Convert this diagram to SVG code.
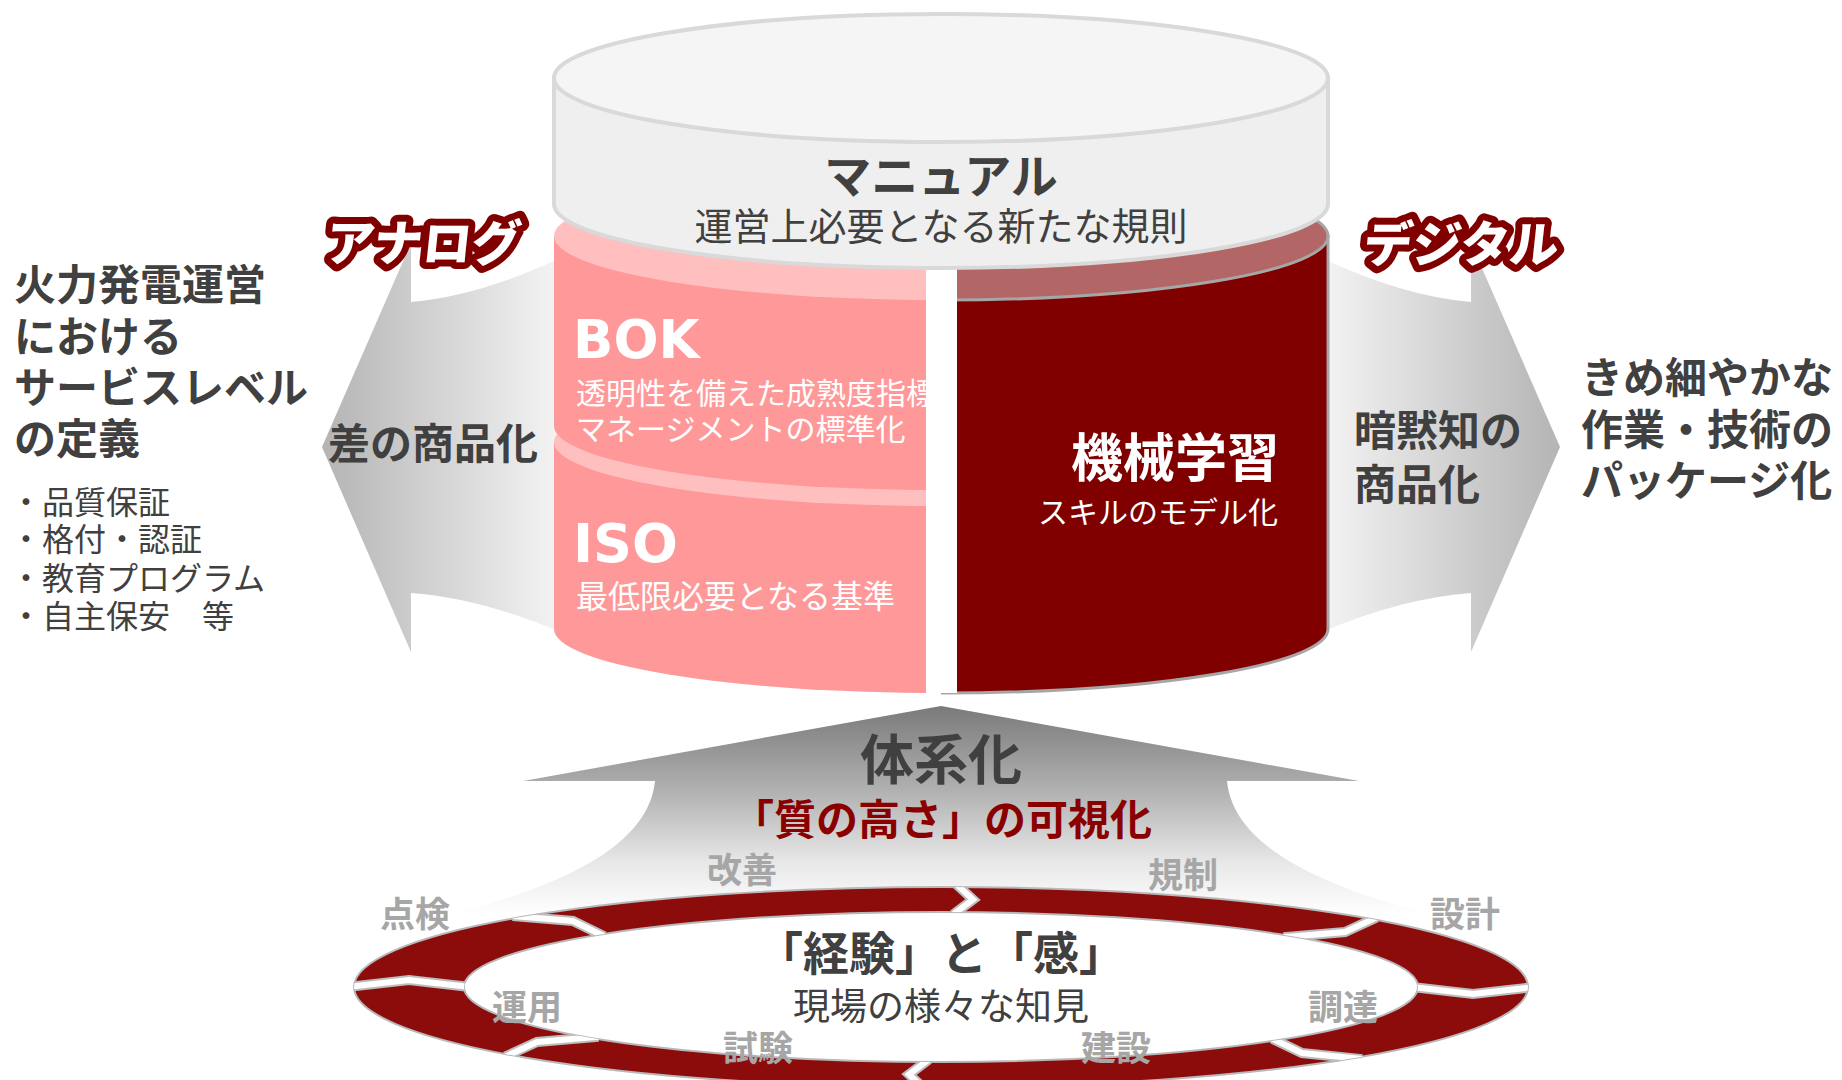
<svg xmlns="http://www.w3.org/2000/svg" width="1842" height="1080" viewBox="0 0 1842 1080">
<defs>
<style>
text { font-family: "Noto Sans CJK JP", "Noto Sans", sans-serif; }
.dk { fill:#404040; }
.b { font-weight:700; }
.w { fill:#ffffff; }
.lbl { font-weight:700; fill:#a6a6a6; font-size:35px; text-anchor:middle; }
.tag { font-weight:900; fill:#ffffff; stroke:#800000; stroke-width:14px; stroke-linejoin:round; paint-order:stroke; font-size:49px; }
.lat { font-family: "DejaVu Sans", "Liberation Sans", sans-serif; font-weight:700; fill:#ffffff; }
.gapg { fill:none; stroke:#bdbdbd; stroke-width:10; stroke-linejoin:miter; }
.gapw { fill:none; stroke:#ffffff; stroke-width:6; stroke-linejoin:miter; }
</style>
<linearGradient id="gL" gradientUnits="userSpaceOnUse" x1="322" y1="0" x2="600" y2="0">
<stop offset="0" stop-color="#b4b4b4"/><stop offset="1" stop-color="#ffffff"/>
</linearGradient>
<linearGradient id="gR" gradientUnits="userSpaceOnUse" x1="1560" y1="0" x2="1282" y2="0">
<stop offset="0" stop-color="#b4b4b4"/><stop offset="1" stop-color="#ffffff"/>
</linearGradient>
<linearGradient id="gU" gradientUnits="userSpaceOnUse" x1="0" y1="706" x2="0" y2="915">
<stop offset="0" stop-color="#7a7a7a"/><stop offset="0.4" stop-color="#b0b0b0"/><stop offset="0.75" stop-color="#e8e8e8"/><stop offset="1" stop-color="#ffffff"/>
</linearGradient>
<clipPath id="cLeft"><rect x="0" y="0" width="941" height="1080"/></clipPath>
<clipPath id="cRight"><rect x="941" y="0" width="901" height="1080"/></clipPath>
<clipPath id="cRing"><path clip-rule="evenodd" d="M 354 987 A 587 100 0 1 0 1528 987 A 587 100 0 1 0 354 987 Z M 464 987 A 477 75 0 1 0 1418 987 A 477 75 0 1 0 464 987 Z"/></clipPath>
</defs>
<rect x="0" y="0" width="1842" height="1080" fill="#ffffff"/>

<g id="connectors">
<path id="arrow-left" d="M 322 447 L 411 243 L 411 302 Q 480 296 560 258 L 700 258 L 700 632 L 560 632 Q 480 598 411 593 L 411 652 Z" fill="url(#gL)"/>
<path id="arrow-right" d="M 1560 447 L 1471 243 L 1471 302 Q 1402 296 1322 258 L 1182 258 L 1182 632 L 1322 632 Q 1402 598 1471 593 L 1471 652 Z" fill="url(#gR)"/>
<path id="arrow-up" d="M 941 706 L 1359 781 L 1227 781 C 1232 830 1282 875 1422 912 L 460 912 C 600 875 650 830 655 781 L 523 781 Z" fill="url(#gU)"/>
</g>

<g id="cylinder-lower">
<g clip-path="url(#cLeft)">
<path d="M 554 442 L 554 629 A 387 64 0 0 0 1328 629 L 1328 442 Z" fill="#ff9999"/>
<ellipse cx="941" cy="442" rx="387" ry="64" fill="#ffbfbf"/>
<path d="M 554 236 L 554 426 A 387 64 0 0 0 1328 426 L 1328 236 Z" fill="#ff9999"/>
<ellipse cx="941" cy="236" rx="387" ry="64" fill="#ffbfbf"/>
</g>
<g clip-path="url(#cRight)">
<path d="M 554 236 L 554 629 A 387 64 0 0 0 1328 629 L 1328 236 Z" fill="#800000" stroke="#a6a6a6" stroke-width="3"/>
<ellipse cx="941" cy="236" rx="387" ry="64" fill="#b36666" stroke="#a6a6a6" stroke-width="3"/>
</g>
</g>

<g id="node-bok">
<text class="lat" x="573" y="358" font-size="53">BOK</text>
<text class="w" x="576" y="404" font-size="30">透明性を備えた成熟度指標</text>
<text class="w" x="576" y="440" font-size="30">マネージメントの標準化</text>
</g>
<g id="node-iso">
<text class="lat" x="573" y="562" font-size="54">ISO</text>
<text class="w" x="576" y="608" font-size="32">最低限必要となる基準</text>
</g>
<rect id="divider" x="926" y="236" width="31" height="457" fill="#ffffff"/>
<g id="node-ml">
<text class="w b" x="1279" y="477" font-size="52" text-anchor="end">機械学習</text>
<text class="w" x="1278" y="523" font-size="30" text-anchor="end">スキルのモデル化</text>
</g>

<g id="node-manual">
<path d="M 554 78 L 554 204 A 387 64 0 0 0 1328 204 L 1328 78 Z" fill="#efefef" stroke="#d9d9d9" stroke-width="4"/>
<ellipse cx="941" cy="78" rx="387" ry="64" fill="#f5f5f5" stroke="#d9d9d9" stroke-width="4"/>
<text class="dk b" x="941" y="193" font-size="47" text-anchor="middle">マニュアル</text>
<text class="dk" x="941" y="240" font-size="38" text-anchor="middle">運営上必要となる新たな規則</text>
</g>

<g id="node-analog">
<text class="tag" transform="translate(324,261) skewX(-6)">アナログ</text>
<text class="dk b" x="328" y="459" font-size="42">差の商品化</text>
</g>
<g id="node-digital">
<text class="tag" transform="translate(1362,262) skewX(-6)">デジタル</text>
<text class="dk b" x="1354" y="446" font-size="42">暗黙知の</text>
<text class="dk b" x="1354" y="500" font-size="42">商品化</text>
</g>

<g id="node-service-level">
<text class="dk b" x="14" y="300" font-size="42">火力発電運営</text>
<text class="dk b" x="14" y="352" font-size="42">における</text>
<text class="dk b" x="14" y="403" font-size="42">サービスレベル</text>
<text class="dk b" x="14" y="454" font-size="42">の定義</text>
<text class="dk" x="10" y="514" font-size="32">・品質保証</text>
<text class="dk" x="10" y="551" font-size="32">・格付・認証</text>
<text class="dk" x="10" y="590" font-size="32">・教育プログラム</text>
<text class="dk" x="10" y="628" font-size="32">・自主保安　等</text>
</g>

<g id="node-package">
<text class="dk b" x="1581" y="393" font-size="42">きめ細やかな</text>
<text class="dk b" x="1581" y="445" font-size="42">作業・技術の</text>
<text class="dk b" x="1581" y="496" font-size="42">パッケージ化</text>
</g>

<g id="node-systematize">
<text class="dk b" x="941" y="780" font-size="54" text-anchor="middle">体系化</text>
<text class="b" x="732" y="835" font-size="42" fill="#8a0000">「質の高さ」の可視化</text>
</g>

<g id="node-cycle">
<path d="M 354 987 A 587 100 0 1 0 1528 987 A 587 100 0 1 0 354 987 Z M 464 987 A 477 75 0 1 0 1418 987 A 477 75 0 1 0 464 987 Z" fill-rule="evenodd" fill="#8c0c0c" stroke="#b8b8b8" stroke-width="2"/>
<g clip-path="url(#cRing)">
<polyline class="gapg" points="953.2,914.5 973,899.6 956.7,884.5"/>
<polyline class="gapg" points="1283.5,937.3 1345,932 1376.7,917.4"/>
<polyline class="gapg" points="1412,987 1473,994 1534,987"/>
<polyline class="gapg" points="1272.1,1038.6 1302,1053 1362.3,1059.1"/>
<polyline class="gapg" points="928.8,1059.5 909,1074.4 925.3,1089.5"/>
<polyline class="gapg" points="598.5,1036.8 537,1042 505.3,1056.6"/>
<polyline class="gapg" points="470,987 409,980 348,987"/>
<polyline class="gapg" points="604.2,936.3 573,921 512.5,916.1"/>
<polyline class="gapw" points="953.2,914.5 973,899.6 956.7,884.5"/>
<polyline class="gapw" points="1283.5,937.3 1345,932 1376.7,917.4"/>
<polyline class="gapw" points="1412,987 1473,994 1534,987"/>
<polyline class="gapw" points="1272.1,1038.6 1302,1053 1362.3,1059.1"/>
<polyline class="gapw" points="928.8,1059.5 909,1074.4 925.3,1089.5"/>
<polyline class="gapw" points="598.5,1036.8 537,1042 505.3,1056.6"/>
<polyline class="gapw" points="470,987 409,980 348,987"/>
<polyline class="gapw" points="604.2,936.3 573,921 512.5,916.1"/>
</g>
<text class="lbl" x="742" y="883">改善</text>
<text class="lbl" x="1183" y="888">規制</text>
<text class="lbl" x="415" y="927">点検</text>
<text class="lbl" x="1465" y="927">設計</text>
<text class="lbl" x="527" y="1020">運用</text>
<text class="lbl" x="1343" y="1020">調達</text>
<text class="lbl" x="758" y="1061">試験</text>
<text class="lbl" x="1116" y="1061">建設</text>
<text class="dk b" x="941" y="970" font-size="46" text-anchor="middle">「経験」と「感」</text>
<text class="dk" x="941" y="1020" font-size="37" text-anchor="middle">現場の様々な知見</text>
</g>
</svg>
